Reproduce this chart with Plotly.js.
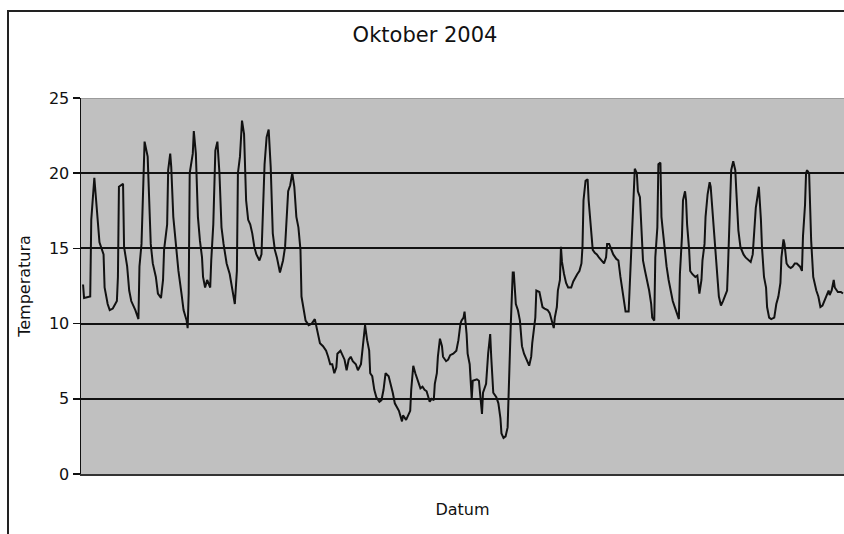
<!DOCTYPE html>
<html>
<head>
<meta charset="utf-8">
<script src="https://cdn.plot.ly/plotly-3.0.1.min.js"></script>
<style>
  html, body { margin: 0; padding: 0; background: #ffffff; overflow: hidden; }
  #chart { position: absolute; left: 0; top: 0; width: 844px; height: 534px; }
  #frame { position: absolute; left: 7px; top: 10px; width: 900px; height: 600px;
           border-left: 2px solid #222; border-top: 2px solid #222; pointer-events: none; }
</style>
</head>
<body>
<div id="chart"></div>
<div id="frame"></div>
<script>
// Hour of the month (October 2004) and temperature readings
const hours = [
  2,3,9,10,13,15,18,22,23,26,28,31,35,36,37,41,42,45,47,49,53,56,57,59,61,62,65,66,68,70,73,75,78,80,81,84,85,87,88,90,93,95,98,100,103,104,105,106,109,110,112,114,116,
  118,119,121,123,126,127,129,131,133,135,137,139,142,145,147,148,150,152,153,155,157,159,161,163,165,167,169,171,174,176,177,179,181,183,185,187,189,191,194,197,199,201,202,204,206,208,210,212,214,215,217,219,222,225,228,230,233,236,239,241,243,
  245,247,249,250,253,255,257,259,261,263,265,268,270,273,275,277,279,281,282,284,286,288,291,293,295,297,300,302,304,306,308,310,313,314,317,319,321,322,324,326,327,329,331,333,335,337,339,340,342,344,345,347,348,350,352,353,356,358,360,363,366,368,370,371,373,374,376,377,
  379,381,382,386,388,390,391,392,395,397,399,400,402,405,407,409,410,412,414,416,417,419,421,422,424,426,428,430,432,435,437,439,440,443,444,447,448,450,452,455,457,459,461,462,464,465,467,468,469,471,473,475,478,480,482,484,486,488,489,490,492,494,495,497,499,501,503,
  505,508,510,512,513,515,517,519,522,524,526,528,530,531,534,535,537,539,540,542,543,545,547,548,550,552,554,556,557,559,560,562,563,565,566,567,569,571,573,575,577,579,581,583,584,586,587,589,590,591,593,594,596,599,601,603,605,606,608,609,611,613,614,616,618,619,621,622,624,626,628,630,
  631,632,634,636,638,639,641,643,644,646,648,651,653,655,656,658,660,661,663,664,666,668,669,671,673,676,678,680,682,683,685,686,688,690,692,694,696,698,701,703,704,705,706,707,708,710,711,712,714,716,717,719,721,723,725,727,729,730,732,734,735,737,738,741,743
];
const temps = [
  12.6,11.7,11.8,16.9,19.7,17.7,15.4,14.6,12.4,11.3,10.9,11.0,11.5,13.1,19.1,19.3,15.1,13.8,12.2,11.5,10.9,10.3,13.8,15.3,21.1,22.1,21.1,18.9,15.3,14.0,13.1,12.0,11.7,12.9,14.9,16.6,20.2,21.3,20.4,17.1,14.6,13.5,12.0,10.9,10.2,9.7,12.0,20.0,21.3,22.8,21.3,17.1,15.5,
  14.4,13.1,12.4,12.9,12.4,14.2,16.6,21.5,22.1,20.0,16.4,15.3,14.0,13.3,12.4,12.0,11.3,13.5,20.0,21.1,23.5,22.6,18.2,16.9,16.6,16.0,15.1,14.6,14.2,14.6,17.1,20.6,22.4,22.9,20.4,16.0,14.9,14.4,13.4,14.2,15.1,17.5,18.8,19.2,20.0,19.1,17.1,16.4,14.9,11.8,10.9,10.2,9.9,10.0,10.3,9.6,8.7,8.5,8.2,7.8,7.3,
  7.3,6.7,7.1,8.0,8.2,7.9,7.6,6.9,7.6,7.8,7.5,7.3,6.9,7.3,8.5,9.9,8.9,8.2,6.7,6.5,5.6,5.1,4.8,4.9,5.6,6.7,6.5,6.0,5.4,4.7,4.4,4.2,3.5,3.9,3.6,3.9,4.2,5.6,7.2,6.7,6.5,6.0,5.7,5.8,5.6,5.5,5.1,4.8,5.0,4.9,6.0,6.7,7.8,9.0,8.5,7.8,7.5,7.6,7.9,8.0,8.2,8.9,10.0,10.2,10.4,10.8,9.3,8.0,
  7.3,5.0,6.2,6.3,6.2,4.7,4.0,5.4,6.0,8.0,9.3,7.8,5.4,5.1,4.7,3.7,2.7,2.4,2.5,3.1,6.0,9.8,13.4,13.4,11.3,10.9,10.2,8.5,8.0,7.5,7.2,7.8,8.7,10.4,12.2,12.1,11.8,11.1,11.0,10.9,10.7,10.2,9.7,10.4,11.1,12.2,12.9,15.1,14.1,13.3,12.7,12.4,12.4,12.8,13.1,13.3,13.5,14.0,15.1,18.2,19.5,19.6,18.2,16.4,14.9,14.7,14.6,
  14.4,14.2,14.0,14.4,15.3,15.3,14.9,14.6,14.3,14.2,13.1,12.2,11.5,10.8,10.8,12.4,16.4,18.8,20.3,20.0,18.8,18.4,15.3,14.2,13.5,12.9,12.2,11.3,10.4,10.2,14.4,16.4,20.6,20.7,17.1,16.4,14.9,13.8,12.9,12.2,11.5,11.1,10.7,10.3,13.3,15.8,18.2,18.8,18.2,16.6,14.9,13.5,13.3,13.1,13.2,12.0,12.9,14.2,15.3,17.1,18.6,19.4,19.1,17.1,15.3,14.0,12.7,11.8,11.2,11.5,11.8,12.2,
  14.0,16.4,20.2,20.8,20.2,18.8,16.2,15.1,14.9,14.6,14.4,14.2,14.1,14.6,15.8,17.7,18.6,19.1,16.9,15.1,13.1,12.4,11.1,10.4,10.3,10.4,11.3,11.8,12.7,14.4,15.6,15.3,14.0,13.8,13.7,13.8,14.0,14.0,13.8,13.5,15.8,16.6,17.9,20.0,20.2,20.0,17.7,15.5,13.1,12.4,12.2,11.8,11.1,11.2,11.5,11.9,12.2,11.9,12.2,12.9,12.4,12.2,12.1,12.1,12.0
];
const yTicks = [0, 5, 10, 15, 20, 25];
const chartTitle = 'Oktober 2004';
const xTitle = 'Datum';
const yTitle = 'Temperatura';

const trace = {
  x: hours, y: temps, type: 'scatter', mode: 'lines',
  line: { color: '#111111', width: 2 },
  hoverinfo: 'skip', showlegend: false
};

const layout = {
  width: 844, height: 534,
  margin: { l: 81, r: 0, t: 98, b: 60 },
  paper_bgcolor: '#ffffff',
  plot_bgcolor: '#c0c0c0',
  font: { family: 'DejaVu Sans', color: '#111' },
  title: {
    text: chartTitle,
    font: { family: 'DejaVu Sans', size: 21, color: '#111' },
    x: 425 / 844, xanchor: 'center', xref: 'container',
    y: 1 - 35 / 534, yanchor: 'middle', yref: 'container'
  },
  xaxis: {
    range: [0, 744], showgrid: false, zeroline: false,
    showticklabels: false, ticks: '',
    showline: true, linecolor: '#333', linewidth: 1.5,
    title: { text: xTitle, font: { family: 'DejaVu Sans', size: 16, color: '#111' }, standoff: 29 },
    fixedrange: true
  },
  yaxis: {
    range: [0, 25], tickvals: yTicks, ticktext: yTicks.map(String),
    ticks: 'outside', ticklen: 7, tickwidth: 1.5, tickcolor: '#111',
    tickfont: { family: 'DejaVu Sans', size: 16, color: '#111' },
    showgrid: true, gridcolor: '#111', gridwidth: 2,
    zeroline: false,
    showline: true, linecolor: '#111', linewidth: 1.5,
    title: { text: yTitle, font: { family: 'DejaVu Sans', size: 16, color: '#111' }, standoff: 14 },
    fixedrange: true
  },
  shapes: [
    { type: 'line', xref: 'paper', yref: 'y', x0: 0, x1: 1, y0: 25, y1: 25,
      line: { color: '#777', width: 1 } }
  ]
};

Plotly.newPlot('chart', [trace], layout, { staticPlot: true, displayModeBar: false });
</script>
</body>
</html>
